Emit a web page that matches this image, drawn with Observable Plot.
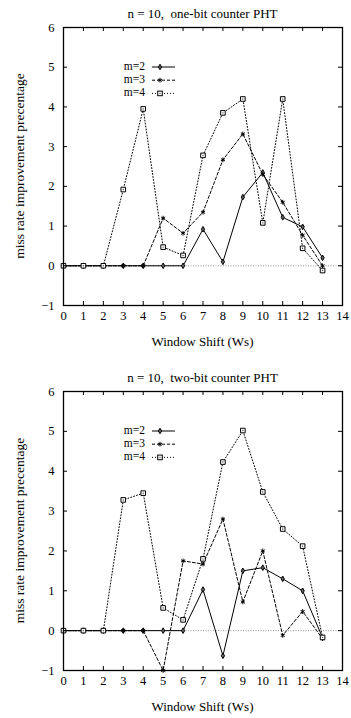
<!DOCTYPE html>
<html>
<head>
<meta charset="utf-8">
<script src="https://cdn.jsdelivr.net/npm/d3@7"></script>
<script src="https://cdn.jsdelivr.net/npm/@observablehq/plot@0.6"></script>
<style>
  html, body { margin: 0; padding: 0; background: white; }
  svg { display: block; }
  svg text { font-family: "Liberation Serif", "DejaVu Serif", serif !important; }
</style>
</head>
<body>
<div id="chart"></div>
<script>
// ---- data ----
const windowShift = [0, 1, 2, 3, 4, 5, 6, 7, 8, 9, 10, 11, 12, 13];
const xTicks = [0, 1, 2, 3, 4, 5, 6, 7, 8, 9, 10, 11, 12, 13, 14];
const yTicks = [-1, 0, 1, 2, 3, 4, 5, 6];
const seriesNames = ["m=2", "m=3", "m=4"];
const titles = ["n = 10,  one-bit counter PHT", "n = 10,  two-bit counter PHT"];
const xLabel = "Window Shift (Ws)";
const yLabel = "miss rate improvement precentage";

const oneBitM2 = [0, 0, 0, 0, 0, 0, 0, 0.92, 0.10, 1.73, 2.35, 1.22, 0.98, 0.20];
const oneBitM3 = [0, 0, 0, 0, 0, 1.20, 0.82, 1.35, 2.67, 3.32, 2.30, 1.60, 0.77, 0.00];
const oneBitM4 = [0, 0, 0, 1.92, 3.95, 0.47, 0.26, 2.78, 3.85, 4.20, 1.08, 4.20, 0.44, -0.12];

const twoBitM2 = [0, 0, 0, 0, 0, 0, 0, 1.03, -0.63, 1.50, 1.58, 1.30, 1.00, -0.18];
const twoBitM3 = [0, 0, 0, 0, 0, -1.00, 1.75, 1.67, 2.80, 0.72, 2.00, -0.12, 0.48, -0.20];
const twoBitM4 = [0, 0, 0, 3.28, 3.45, 0.57, 0.27, 1.80, 4.23, 5.02, 3.48, 2.55, 2.12, -0.17];

// ---- styles ----
const FONT = '"Liberation Serif", "DejaVu Serif", serif';
const styles = [
  { dash: null, symbol: "diamond", r: 1.7 },
  { dash: "3,2", symbol: "plus", r: 2.2 },
  { dash: "1,2", symbol: "square", r: 2.6 }
];

function chart(title, seriesArr, opts) {
  const { height, marginTop, marginBottom } = opts;
  const marginLeft = 63, marginRight = 9, width = 351;
  const innerH = height - marginTop - marginBottom;
  const innerW = width - marginLeft - marginRight;

  const marks = [
    Plot.ruleY([0], { stroke: "#999", strokeDasharray: "1,1.5", strokeWidth: 1 })
  ];
  seriesArr.forEach((vals, i) => {
    const data = windowShift.map((x, j) => ({ x, y: vals[j] }));
    const st = styles[i];
    marks.push(Plot.line(data, { x: "x", y: "y", stroke: "black", strokeWidth: 1, strokeDasharray: st.dash }));
  });
  seriesArr.forEach((vals, i) => {
    const data = windowShift.map((x, j) => ({ x, y: vals[j] }));
    const st = styles[i];
    if (st.symbol === "square") {
      marks.push(Plot.dot(data, { x: "x", y: "y", symbol: "square", r: st.r, fill: "white", stroke: "black", strokeWidth: 1 }));
      marks.push(Plot.dot(data, { x: "x", y: "y", r: 0.7, fill: "#444" }));
    } else if (st.symbol === "plus") {
      marks.push(Plot.dot(data, { x: "x", y: "y", symbol: "asterisk", r: st.r, stroke: "black", strokeWidth: 1 }));
    } else {
      marks.push(Plot.dot(data, { x: "x", y: "y", symbol: "diamond", r: st.r, fill: "#666", stroke: "black", strokeWidth: 1 }));
    }
  });
  // mirrored inward ticks
  marks.push(Plot.tickX(xTicks, { x: d => d, stroke: "black", insetTop: innerH - 4 }));
  marks.push(Plot.tickX(xTicks, { x: d => d, stroke: "black", insetBottom: innerH - 4 }));
  marks.push(Plot.tickY(yTicks, { y: d => d, stroke: "black", insetRight: innerW - 4 }));
  marks.push(Plot.tickY(yTicks, { y: d => d, stroke: "black", insetLeft: innerW - 4 }));
  marks.push(Plot.frame({ stroke: "black", strokeWidth: 1.3 }));
  marks.push(Plot.axisX(xTicks, { tickSize: 0, tickPadding: 6, fontSize: 12.5 }));
  marks.push(Plot.axisY(yTicks, { tickSize: 0, tickPadding: 9, fontSize: 12.5 }));

  const svg = Plot.plot({
    width, height, marginLeft, marginRight, marginTop, marginBottom,
    style: { fontFamily: FONT, fontSize: "12px", background: "white", color: "black" },
    x: { domain: [0, 14], label: null },
    y: { domain: [-1, 6], label: null },
    marks
  });

  const g = d3.select(svg).append("g").style("font-family", FONT).attr("fill", "black");
  const cx = marginLeft + innerW / 2;
  g.append("text").attr("x", cx).attr("y", marginTop - 12).attr("text-anchor", "middle")
    .attr("dominant-baseline", "middle").style("font-size", "13px").text(title);
  g.append("text").attr("x", cx).attr("y", height - marginBottom + 38).attr("text-anchor", "middle")
    .attr("dominant-baseline", "middle").style("font-size", "13px").text(xLabel);
  g.append("text").attr("transform", `translate(21,${marginTop + innerH / 2}) rotate(-90)`)
    .attr("text-anchor", "middle").attr("dominant-baseline", "middle").style("font-size", "13.5px").text(yLabel);

  // legend
  const lx = 145, ly0 = marginTop + 40, step = 13.2;
  seriesNames.forEach((name, i) => {
    const y = ly0 + i * step;
    const st = styles[i];
    g.append("text").attr("x", lx).attr("y", y).attr("text-anchor", "end")
      .attr("dominant-baseline", "middle").style("font-size", "11.5px").text(name);
    const line = g.append("line").attr("x1", 152).attr("x2", 175).attr("y1", y).attr("y2", y)
      .attr("stroke", "black").attr("stroke-width", 1);
    if (st.dash) line.attr("stroke-dasharray", st.dash);
    const mx = 160;
    if (st.symbol === "square") {
      g.append("rect").attr("x", mx - 2.3).attr("y", y - 2.3).attr("width", 4.6).attr("height", 4.6)
        .attr("fill", "white").attr("stroke", "black");
      g.append("circle").attr("cx", mx).attr("cy", y).attr("r", 0.7).attr("fill", "#444");
    } else if (st.symbol === "plus") {
      g.append("path").attr("d", d3.symbol(d3.symbolAsterisk, Math.PI * st.r * st.r)()).attr("transform", `translate(${mx},${y})`)
        .attr("stroke", "black").attr("fill", "none");
    } else {
      g.append("path").attr("d", d3.symbol(d3.symbolDiamond, Math.PI * st.r * st.r)()).attr("transform", `translate(${mx},${y})`)
        .attr("stroke", "black").attr("stroke-width", 1).attr("fill", "#666");
    }
  });
  return svg;
}

const root = document.getElementById("chart");
root.appendChild(chart(titles[0], [oneBitM2, oneBitM3, oneBitM4], { height: 355, marginTop: 27, marginBottom: 50 }));
root.appendChild(chart(titles[1], [twoBitM2, twoBitM3, twoBitM4], { height: 363, marginTop: 36, marginBottom: 48 }));
</script>
</body>
</html>
